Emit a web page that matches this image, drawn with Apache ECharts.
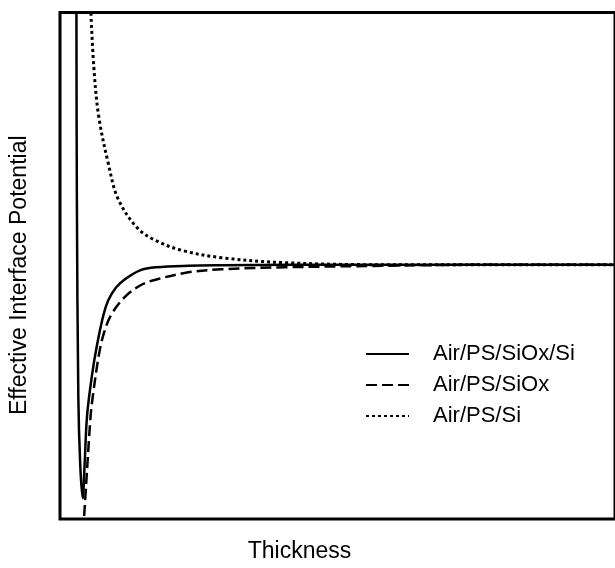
<!DOCTYPE html>
<html>
<head>
<meta charset="utf-8">
<script src="https://cdn.jsdelivr.net/npm/echarts@6/dist/echarts.min.js"></script>
<style>html,body{margin:0;padding:0;background:#fff;}#c{width:615px;height:568px;}</style>
</head>
<body>
<div id="c"></div>
<script>
const seriesNames = ['Air/PS/SiOx/Si', 'Air/PS/SiOx', 'Air/PS/Si'];
const solidData = [
  [2.96, 99.9], [3.04, 63.3], [3.30, 24.2], [3.65, 10.6], [4.09, 4.1], [4.43, 10.6],
  [4.87, 20.3], [5.74, 28.2], [6.61, 34.0], [7.83, 40.3], [8.70, 43.2], [10.09, 45.7],
  [11.65, 47.3], [14.43, 49.1], [17.39, 49.7], [23.13, 50.0], [29.04, 50.1], [41.7, 50.2], [100, 50.2]
];
const dashedData = [
  [4.35, 0.6], [4.70, 6.6], [5.51, 20.3], [5.91, 24.2], [6.96, 32.1], [7.83, 36.4],
  [9.22, 40.3], [11.65, 43.8], [14.43, 46.1], [17.39, 47.3], [23.13, 48.7], [29.04, 49.3],
  [40.5, 49.7], [59.1, 50.0], [76.5, 50.2], [100, 50.2]
];
const dottedData = [
  [5.57, 99.9], [6.09, 89.3], [6.96, 79.6], [8.70, 70.2], [10.43, 63.3], [13.91, 57.5],
  [17.39, 54.9], [22.09, 53.0], [29.04, 51.6], [40.5, 50.6], [59.1, 50.2], [100, 50.2]
];
const xName = 'Thickness';
const yName = 'Effective Interface Potential';

const chart = echarts.init(document.getElementById('c'), null, {renderer: 'canvas'});
const font = 'Liberation Sans, Arial, sans-serif';
function mk(name, data, width, dash) {
  return {
    name: name, type: 'line', data: data, symbol: 'none', showSymbol: false,
    smooth: 0.35, clip: true, animation: false, color: '#000',
    itemStyle: {color: '#000'},
    lineStyle: {color: '#000', width: width, type: dash}
  };
}
chart.setOption({
  animation: false,
  backgroundColor: '#fff',
  grid: {left: 60, width: 600, top: 12.5, bottom: 44, show: true, borderColor: '#000', borderWidth: 3, backgroundColor: 'transparent'},
  xAxis: {
    type: 'value', min: 0, max: 100,
    axisLine: {show: false}, axisTick: {show: false}, axisLabel: {show: false}, splitLine: {show: false},
    name: xName, nameLocation: 'middle', nameGap: 21,
    nameTextStyle: {fontFamily: font, fontSize: 23, color: '#000', padding: [0, 76, 0, 0]}
  },
  yAxis: {
    type: 'value', min: 0, max: 100,
    axisLine: {show: false}, axisTick: {show: false}, axisLabel: {show: false}, splitLine: {show: false},
    name: yName, nameLocation: 'middle', nameGap: 29,
    nameTextStyle: {fontFamily: font, fontSize: 23, color: '#000', padding: [0, 19, 0, 0]}
  },
  legend: {
    orient: 'vertical', left: 360, top: 338, itemWidth: 43, itemHeight: 14, itemGap: 9,
    data: seriesNames,
    itemStyle: {opacity: 0},
    textStyle: {fontFamily: font, fontSize: 22, color: '#000', lineHeight: 20, padding: [0, 0, 0, 19]}
  },
  series: [
    mk(seriesNames[0], solidData, 2.5, 'solid'),
    mk(seriesNames[1], dashedData, 2.5, [11, 5]),
    mk(seriesNames[2], dottedData, 3, [3, 3])
  ]
});
</script>
</body>
</html>
